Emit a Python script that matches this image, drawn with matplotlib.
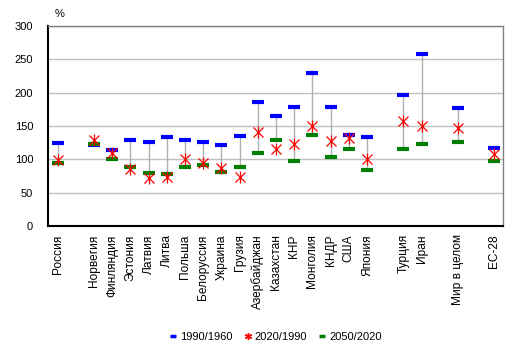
import numpy as np
import matplotlib
matplotlib.use("Agg")
import matplotlib.pyplot as plt
from matplotlib.lines import Line2D

plt.rcParams["font.family"] = ["Liberation Sans", "DejaVu Sans"]

# ── data (empty label = gap slot) ─────────────────────────────────────────────
categories = ["Россия", "", "Норвегия", "Финляндия", "Эстония", "Латвия", "Литва",
              "Польша", "Белоруссия", "Украина", "Грузия", "Азербайджан", "Казахстан",
              "КНР", "Монголия", "КНДР", "США", "Япония", "", "Турция", "Иран", "",
              "Мир в целом", "", "ЕС-28"]
nan = np.nan
r_1990_1960 = [125, nan, 121, 114, 129, 126, 134, 129, 126, 121.5, 135, 186, 165,
               179, 230, 179, 137, 134, nan, 196.5, 258.5, nan, 177.5, nan, 117.5]
r_2020_1990 = [99, nan, 129, 110, 85, 71.5, 73.5, 100, 94, 86.5, 74, 140.5, 115,
               123, 150.5, 127, 132, 100.5, nan, 157, 149.5, nan, 146.5, nan, 108]
r_2050_2020 = [95, nan, 123, 100.5, 89, 79.5, 78.5, 89, 92, 81, 89, 110, 129.5,
               98, 137, 104, 116, 84.5, nan, 116, 123.5, nan, 126.5, nan, 98]

BLUE, RED, GREEN = "#0000ff", "#ff0000", "#008000"

x = np.arange(len(categories))
a = np.array(r_1990_1960, dtype=float)
b = np.array(r_2020_1990, dtype=float)
c = np.array(r_2050_2020, dtype=float)

fig = plt.figure(figsize=(5.17, 3.54), dpi=100)
ax = fig.add_axes([0.0938, 0.3616, 0.880, 0.565])

# high-low lines between 1990/1960 and 2050/2020
ax.vlines(x, np.fmin(a, c), np.fmax(a, c), color="#b0b0b0", lw=1, zorder=2)

ax.plot(x, a, ls="none", marker="_", ms=9, mew=3, color=BLUE, zorder=3)
ax.plot(x, c, ls="none", marker="_", ms=9, mew=3, color=GREEN, zorder=3)
ax.plot(x, b, ls="none", marker="x", ms=7, mew=0.9, color=RED, zorder=4)
ax.plot(x, b, ls="none", marker="|", ms=9, mew=0.9, color=RED, zorder=4)

ax.set_xlim(-0.5, len(categories) - 0.5)
ax.set_ylim(0, 300)
ax.set_yticks(range(0, 301, 50))
ax.yaxis.grid(True, color="#c0c0c0", lw=1)
ax.set_axisbelow(True)

lab_idx = [i for i, n in enumerate(categories) if n]
ax.set_xticks(lab_idx)
ax.set_xticklabels([categories[i] for i in lab_idx], rotation=90, fontsize=8.6)
ax.tick_params(axis="both", length=0)
ax.tick_params(axis="y", pad=11, labelsize=8)
ax.tick_params(axis="x", pad=6)

for s in ["top", "right"]:
    ax.spines[s].set_color("#808080")
    ax.spines[s].set_linewidth(1)
for s in ["left", "bottom"]:
    ax.spines[s].set_color("black")
    ax.spines[s].set_linewidth(1.5)

fig.text(60 / 517, 1 - 14 / 354, "%", fontsize=8, ha="center", va="center")

handles = [
    Line2D([], [], ls="none", marker="_", ms=4, mew=2.5, color=BLUE, label="1990/1960"),
    Line2D([], [], ls="none", marker=(6, 2, 0), ms=5, mew=1, color=RED, label="2020/1990"),
    Line2D([], [], ls="none", marker="_", ms=4, mew=2.5, color=GREEN, label="2050/2020"),
]
fig.legend(handles=handles, loc="center", bbox_to_anchor=(0.534, 1 - 337 / 354),
           ncol=3, frameon=False, fontsize=8, handlelength=0.5, handletextpad=0.4,
           columnspacing=1.1)

fig.savefig("out.png", dpi=100)
